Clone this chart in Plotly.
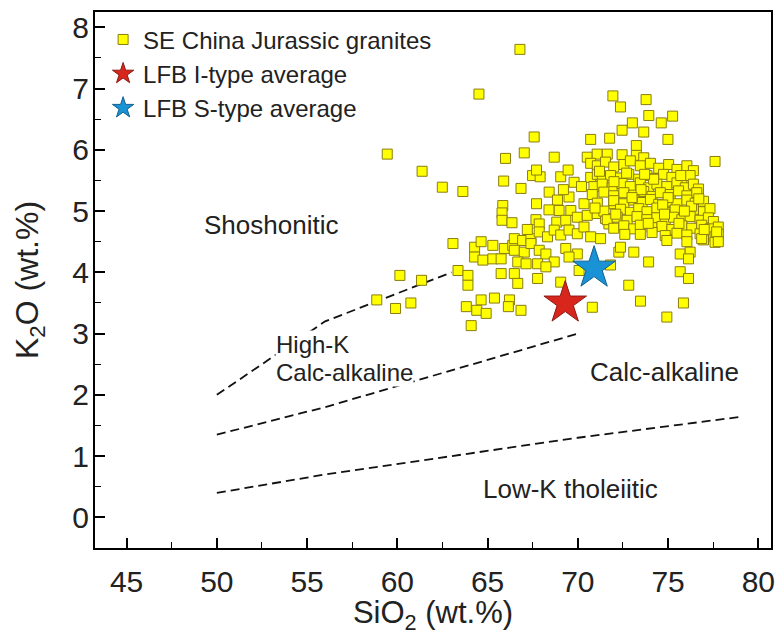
import plotly.graph_objects as go

# SE China Jurassic granites: SiO2 and K2O (wt.%)
sio2 = [
    66.79, 64.52, 71.94, 72.36, 73.78, 73.93, 74.62, 75.25, 73.02, 72.45, 73.65, 74.99,
    70.71, 71.76, 67.58, 59.44, 61.37, 62.49, 63.63, 65.99, 67.03, 68.69, 70.52, 71.07,
    71.63, 72.45, 73.24, 73.24, 73.65, 77.60, 65.89, 66.85, 67.49, 67.91, 67.71, 68.41,
    69.05, 69.46, 69.79, 68.87, 69.51, 70.34, 67.71, 65.84, 65.80, 65.80, 66.35, 67.68,
    67.86, 68.96, 69.61, 68.83, 69.33, 69.97, 70.52, 71.07, 71.53, 71.72, 72.18, 71.99,
    70.71, 71.08, 71.53, 71.99, 72.55, 72.91, 73.46, 74.02, 74.48, 75.03, 75.49, 76.04, 76.40,
    70.71, 71.08, 71.35, 71.81, 72.36, 72.82, 73.37, 73.83, 74.29, 74.75, 75.21, 75.76, 76.22,
    70.89, 71.35, 71.90, 72.45, 72.91, 73.46, 73.92, 74.38, 74.93, 75.49, 75.95, 76.40, 76.68,
    70.80, 71.44, 71.99, 72.55, 73.10, 73.65, 74.11, 74.57, 75.12, 75.58, 76.04, 76.59,
    71.08, 71.99, 72.55, 73.10, 73.56, 74.02, 74.48, 75.03, 75.49, 76.04, 76.50, 76.96,
    71.44, 72.36, 72.91, 73.37, 73.83, 74.38, 74.84, 75.39, 75.95, 76.40, 76.96, 77.32,
    71.63, 72.18, 72.73, 73.28, 73.83, 74.38, 74.84, 75.30, 75.76, 76.22, 76.77, 77.23, 77.51,
    71.99, 72.55, 73.10, 73.46, 74.11, 74.66, 75.21, 75.76, 76.31, 76.86, 77.32, 77.78,
    73.46, 74.11, 74.84, 75.49, 76.04, 76.77, 77.60, 77.78,
    74.93, 76.04, 76.96, 77.60,
    63.08, 64.28, 64.64, 65.29, 64.28, 64.74, 65.29, 65.75, 65.93, 66.39, 66.48, 66.94,
    67.40, 67.86, 68.32, 68.69, 69.05, 69.51, 69.97, 70.34, 70.71, 71.26, 66.48, 67.03,
    67.40, 67.86, 68.23, 68.69, 69.33, 69.97, 69.51, 66.67, 67.13, 67.77, 68.23, 66.48,
    66.67, 65.75, 67.77, 63.36, 63.91, 63.91, 69.05, 70.07, 70.80, 71.81, 72.27, 72.36,
    73.10, 73.92, 72.82, 73.47, 74.93, 75.85, 75.67, 76.13, 75.67, 76.22, 76.13, 76.86,
    77.69, 77.78,
    60.14, 61.34, 58.86, 59.90, 60.75, 63.82, 64.64, 65.38, 66.21, 66.15, 64.40, 64.92,
    66.85, 64.09,
    71.20, 72.00, 72.70, 73.50, 74.20, 75.00, 75.70, 76.30, 70.95, 72.10, 73.00, 73.90,
    74.70, 75.60, 76.70, 72.60, 73.70, 74.80, 75.90, 77.00, 69.20, 68.40, 70.20, 67.20,
]
k2o = [
    7.64, 6.91, 6.88, 6.70, 6.82, 6.56, 6.44, 6.55, 6.44, 6.32, 6.29, 6.17,
    6.17, 6.19, 6.21, 5.93, 5.65, 5.39, 5.32, 5.86, 5.95, 5.88, 5.88, 5.93,
    5.93, 5.92, 6.07, 5.91, 5.87, 5.81, 5.49, 5.37, 5.58, 5.56, 5.67, 5.31,
    5.56, 5.67, 5.47, 5.18, 5.23, 5.12, 5.12, 5.09, 4.97, 4.85, 4.81, 4.86,
    4.79, 5.01, 5.01, 4.82, 4.85, 4.90, 4.93, 4.96, 4.88, 4.79, 5.01, 5.12,
    5.78, 5.74, 5.80, 5.72, 5.76, 5.82, 5.74, 5.78, 5.70, 5.76, 5.68, 5.74, 5.66,
    5.55, 5.60, 5.52, 5.58, 5.54, 5.60, 5.52, 5.58, 5.53, 5.60, 5.55, 5.50, 5.58,
    5.40, 5.44, 5.38, 5.45, 5.40, 5.46, 5.38, 5.44, 5.40, 5.46, 5.38, 5.44, 5.36,
    5.27, 5.31, 5.25, 5.30, 5.26, 5.32, 5.24, 5.30, 5.27, 5.33, 5.25, 5.30,
    5.13, 5.17, 5.12, 5.18, 5.14, 5.19, 5.11, 5.16, 5.12, 5.18, 5.13, 5.16,
    5.00, 5.03, 4.98, 5.04, 4.99, 5.05, 4.98, 5.02, 4.97, 5.03, 4.99, 5.04,
    4.86, 4.90, 4.85, 4.91, 4.86, 4.89, 4.84, 4.90, 4.86, 4.91, 4.85, 4.89, 4.83,
    4.72, 4.76, 4.71, 4.77, 4.73, 4.75, 4.70, 4.76, 4.72, 4.77, 4.71, 4.74,
    4.62, 4.65, 4.60, 4.64, 4.61, 4.63, 4.58, 4.62,
    4.52, 4.50, 4.53, 4.49,
    4.47, 4.41, 4.50, 4.44, 4.25, 4.20, 4.22, 4.22, 4.39, 4.44, 4.55, 4.52,
    4.55, 4.66, 4.58, 4.69, 4.61, 4.69, 4.63, 4.74, 4.58, 4.55, 4.36, 4.33,
    4.47, 4.36, 4.30, 4.17, 4.39, 4.30, 4.25, 4.17, 4.14, 4.14, 4.09, 3.98,
    3.82, 3.98, 3.90, 4.03, 3.95, 3.79, 3.84, 4.03, 3.43, 4.12, 4.33, 4.41,
    4.33, 4.17, 3.79, 3.53, 3.27, 3.50, 4.01, 3.90, 4.30, 4.33, 4.22, 4.55,
    4.66, 4.50,
    3.95, 3.87, 3.55, 3.41, 3.50, 3.44, 3.55, 3.58, 3.55, 3.44, 3.38, 3.33,
    3.38, 3.13,
    5.65, 5.48, 5.62, 5.35, 5.52, 5.22, 5.58, 5.08, 5.05, 4.95, 5.22, 4.80,
    5.10, 4.80, 5.20, 4.62, 5.60, 4.95, 5.00, 4.70, 5.35, 5.02, 5.40, 4.70,
]

# LFB averages (SiO2, K2O)
i_type = (69.3, 3.5)
s_type = (70.9, 4.07)

# Peccerillo & Taylor (1976) series boundaries
shosh_x = [50, 52, 56, 63]
shosh_y = [2.0, 2.4, 3.2, 4.0]
highk_x = [50, 52, 56, 63, 70]
highk_y = [1.35, 1.5, 1.8, 2.4, 3.0]
lowk_x = [50, 52, 56, 63, 70, 79]
lowk_y = [0.4, 0.5, 0.7, 1.0, 1.3, 1.64]

x_ticks = [45, 50, 55, 60, 65, 70, 75, 80]
y_ticks = [0, 1, 2, 3, 4, 5, 6, 7, 8]

# (text, SiO2, K2O, anchor, size, masks boundary line)
field_labels = [
    ("Shoshonitic", 53.0, 4.78, "center", 26, False),
    ("High-K", 53.2, 2.83, "left", 24, True),
    ("Calc-alkaline", 53.2, 2.36, "left", 24, True),
    ("Calc-alkaline", 74.8, 2.37, "center", 26, False),
    ("Low-K tholeiitic", 69.6, 0.46, "center", 26, False),
]

font_family = "Liberation Sans, Arial"
ink = "#222222"

fig = go.Figure()

dash_style = dict(color="#111111", width=1.8, dash="9px,5px")
for xs, ys in [(shosh_x, shosh_y), (highk_x, highk_y), (lowk_x, lowk_y)]:
    fig.add_trace(go.Scatter(x=xs, y=ys, mode="lines", line=dash_style,
                             showlegend=False, hoverinfo="skip"))

fig.add_trace(go.Scatter(
    x=sio2, y=k2o, mode="markers", name="SE China Jurassic granites",
    marker=dict(symbol="square", size=10, color="#ffff00",
                line=dict(color="#8a7d10", width=1)),
))
fig.add_trace(go.Scatter(
    x=[i_type[0]], y=[i_type[1]], mode="markers", name="LFB I-type average",
    marker=dict(symbol="star", size=32, color="#d9261c",
                line=dict(color="#8a1a14", width=1)),
))
fig.add_trace(go.Scatter(
    x=[s_type[0]], y=[s_type[1]], mode="markers", name="LFB S-type average",
    marker=dict(symbol="star", size=32, color="#1a92d6",
                line=dict(color="#10608e", width=1)),
))

for text, x, y, anchor, size, mask in field_labels:
    fig.add_annotation(x=x, y=y, text=text, showarrow=False, xanchor=anchor,
                       bgcolor="white" if mask else "rgba(0,0,0,0)", borderpad=0,
                       font=dict(family=font_family, size=size, color=ink))

fig.update_layout(
    width=778, height=635,
    margin=dict(l=95, r=3, t=12, b=87),
    paper_bgcolor="white", plot_bgcolor="white",
    showlegend=True,
    legend=dict(x=0.012, y=0.99, xanchor="left", yanchor="top",
                bgcolor="rgba(0,0,0,0)", tracegroupgap=0,
                font=dict(family=font_family, size=24, color=ink),
                itemsizing="trace"),
)

axis_common = dict(
    showgrid=False, zeroline=False, showline=True, linecolor="black", linewidth=2,
    mirror=True, ticks="inside", ticklen=10, tickwidth=1.5, tickcolor="black",
    tickfont=dict(family=font_family, size=30, color=ink),
)
fig.update_xaxes(
    range=[43.25, 80.7], tickvals=x_ticks, ticklabelstandoff=6,
    minor=dict(dtick=2.5, tick0=0, ticks="inside", ticklen=6, tickwidth=1.2, tickcolor="black"),
    title=dict(text="SiO<sub>2</sub> (wt.%)", font=dict(family=font_family, size=31, color=ink),
               standoff=5),
    **axis_common,
)
fig.update_yaxes(
    range=[-0.5, 8.25], tickvals=y_ticks, ticklabelstandoff=-2,
    minor=dict(dtick=0.5, tick0=0, ticks="inside", ticklen=6, tickwidth=1.2, tickcolor="black"),
    title=dict(text="K<sub>2</sub>O (wt.%)", font=dict(family=font_family, size=32, color=ink),
               standoff=24),
    **axis_common,
)

fig.write_html("out.html")
